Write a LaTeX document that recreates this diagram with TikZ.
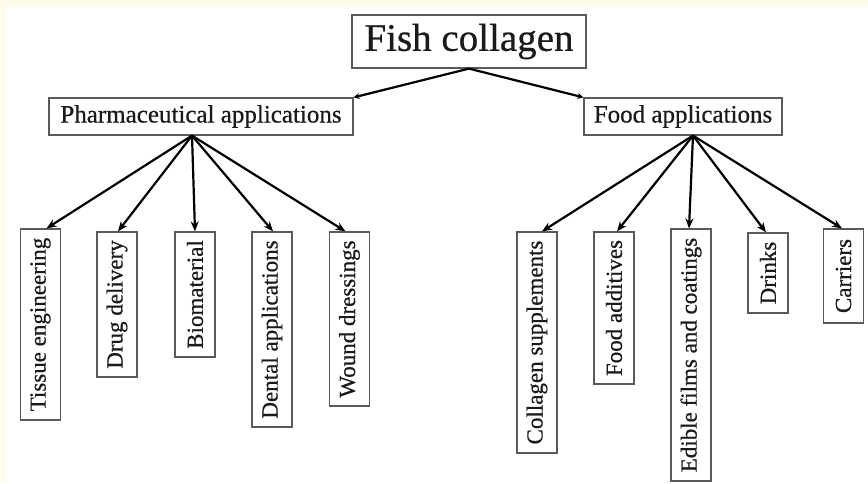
\documentclass[tikz,border=0pt]{standalone}
\usepackage{fontspec}
\setmainfont{Liberation Serif}[FakeBold=0.6]
\usetikzlibrary{arrows.meta,calc}
\definecolor{cream}{HTML}{FFFBEA}
\definecolor{boxline}{HTML}{5A5A5A}
\definecolor{inktext}{HTML}{1A1A1A}
\begin{document}
\begin{tikzpicture}[x=1pt,y=-1pt,
  box/.style={draw=boxline,line width=1.2pt,inner sep=0pt,text=inktext},
  leaf/.style={box,rotate=90,minimum height=40pt,font=\fontsize{23}{23}\selectfont},
  conn/.style={line width=2.2pt,-{Stealth[length=10pt,width=8pt]}},
  topconn/.style={line width=2.2pt,-{Stealth[length=6pt,width=6pt]}}]
\useasboundingbox (0,0) rectangle (868,483);
\fill[cream] (0,0) rectangle (868,483);
\fill[white] (6,7) rectangle (868,483);
% parents
\node[box,minimum width=234pt,minimum height=53pt,font=\fontsize{39}{39}\selectfont] (fish) at (469,41.5) {Fish collagen};
\node[box,minimum width=304pt,minimum height=37pt,font=\fontsize{25}{25}\selectfont] (ph) at (201,116.5) {Pharmaceutical applications};
\node[box,minimum width=198pt,minimum height=37pt,font=\fontsize{25}{25}\selectfont] (fo) at (683,116.5) {Food applications};
% leaves
\node[leaf,minimum width=191pt] (t1) at (40.5,324.5) {Tissue engineering};
\node[leaf,minimum width=145pt] (t2) at (117,304.5) {Drug delivery};
\node[leaf,minimum width=125pt] (t3) at (195,294.5) {Biomaterial};
\node[leaf,minimum width=195pt] (t4) at (272,329.5) {Dental applications};
\node[leaf,minimum width=174pt] (t5) at (349.5,319) {Wound dressings};
\node[leaf,minimum width=221pt] (f1) at (537,342.5) {Collagen supplements};
\node[leaf,minimum width=152pt] (f2) at (614,308) {Food additives};
\node[leaf,minimum width=252pt] (f3) at (691,355) {Edible films and coatings};
\node[leaf,minimum width=80pt] (f4) at (768,273) {Drinks};
\node[leaf,minimum width=94pt] (f5) at (843.5,276) {Carriers};
% connectors
\draw[topconn] (fish.south) -- (ph.north east);
\draw[topconn] (fish.south) -- (fo.north west);
\coordinate (phs) at ($(ph.south)+(-9,0)$);
\coordinate (fos) at ($(fo.south)+(10,0)$);
\draw[conn] (phs) -- ($(t1.east)+(6,0)$);
\draw[conn] (phs) -- ($(t2.east)+(1,0)$);
\draw[conn] (phs) -- (t3.east);
\draw[conn] (phs) -- ($(t4.east)+(1,0)$);
\draw[conn] (phs) -- ($(t5.east)+(-4,0)$);
\draw[conn] (fos) -- ($(f1.east)+(5,0)$);
\draw[conn] (fos) -- ($(f2.east)+(3,0)$);
\draw[conn] (fos) -- ($(f3.east)+(-2,0)$);
\draw[conn] (fos) -- ($(f4.east)+(-2,0)$);
\draw[conn] (fos) -- ($(f5.east)+(-1.5,0)$);
\end{tikzpicture}
\end{document}
